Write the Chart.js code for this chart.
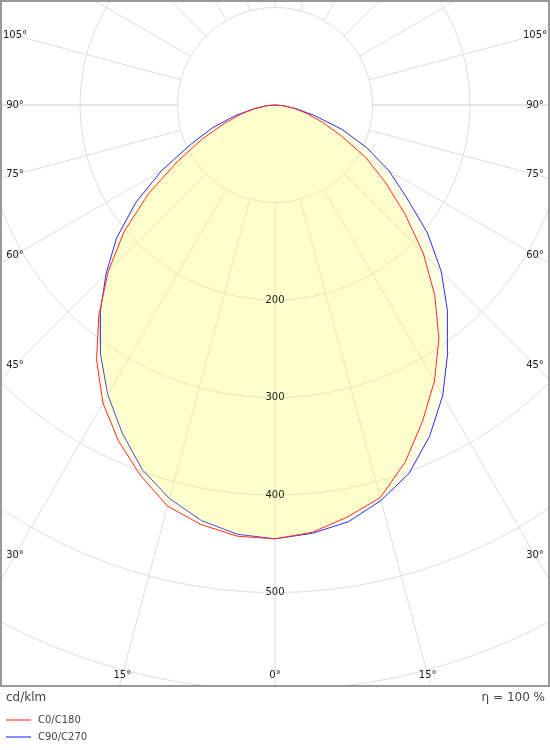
<!DOCTYPE html>
<html>
<head>
<meta charset="utf-8">
<script src="https://cdn.jsdelivr.net/npm/chart.js"></script>
<style>
  body { margin: 0; background: #fff; }
  #wrap { width: 550px; height: 750px; }
</style>
</head>
<body>
<div id="wrap"><canvas id="chart"></canvas></div>
<script>
// gamma angles (deg, 0 = straight down)
const angles = [0, 5, 10, 15, 20, 25, 30, 35, 40, 45, 50, 55, 60, 65, 70, 75, 80, 85, 90];
// cd/klm per half-plane
const c0   = [445, 440, 429, 417, 390, 358, 327, 293, 255, 215, 174, 138, 107, 75, 52, 34, 20, 8, 0];
const c180 = [445, 444, 437, 426, 404, 380, 353, 319, 281, 242, 202, 158, 115, 82, 55, 36, 21, 8, 0];
const c90  = [445, 441, 434, 420, 402, 375, 344, 309, 275, 241, 204, 164, 135, 104, 73, 42, 22, 9, 0];
const c270 = [445, 442, 433, 418, 398, 371, 343, 312, 279, 245, 212, 174, 134, 95, 68, 42, 22, 9, 0];
const rings = [100, 200, 300, 400, 500, 600, 700];
const ringLabels = [200, 300, 400, 500];
const spokeLabels = [0, 15, 30, 45, 60, 75, 90, 105];
const seriesNames = ['C0/C180', 'C90/C270'];

function toXY(right, left) {
  const pts = [];
  angles.forEach((a, i) => {
    const t = a * Math.PI / 180;
    pts.push({ x: right[i] * Math.sin(t), y: -right[i] * Math.cos(t) });
  });
  for (let i = angles.length - 1; i >= 0; i--) {
    const t = angles[i] * Math.PI / 180;
    pts.push({ x: -left[i] * Math.sin(t), y: -left[i] * Math.cos(t) });
  }
  return pts;
}

const polarGrid = {
  id: 'polarGrid',
  beforeDatasetsDraw(chart) {
    const { ctx, chartArea: ca, scales: { x, y } } = chart;
    const cx = x.getPixelForValue(0), cy = y.getPixelForValue(0);
    const k = x.getPixelForValue(100) - cx;
    ctx.save();
    ctx.beginPath();
    ctx.rect(ca.left, ca.top, ca.width, ca.height);
    ctx.clip();
    ctx.strokeStyle = '#dddddd';
    ctx.lineWidth = 1;
    rings.forEach(r => {
      ctx.beginPath();
      ctx.arc(cx, cy, r * k / 100, 0, Math.PI * 2);
      ctx.stroke();
    });
    for (let a = 0; a < 360; a += 15) {
      const t = a * Math.PI / 180;
      const dx = Math.sin(t), dy = Math.cos(t);
      ctx.lineWidth = (a === 90 || a === 270) ? 1.5 : 1;
      ctx.beginPath();
      ctx.moveTo(cx + dx * k, cy + dy * k);
      ctx.lineTo(cx + dx * 2000, cy + dy * 2000);
      ctx.stroke();
    }
    ctx.restore();
  },
  afterDatasetsDraw(chart) {
    const { ctx, chartArea: ca, scales: { x, y } } = chart;
    const cx = x.getPixelForValue(0), cy = y.getPixelForValue(0);
    ctx.save();
    ctx.fillStyle = '#222';
    ctx.font = '10px "DejaVu Sans"';
    ctx.textAlign = 'center';
    ctx.textBaseline = 'middle';
    ringLabels.forEach(r => {
      ctx.fillText(String(r), cx, y.getPixelForValue(-r));
    });
    const bottomY = ca.bottom - 12, sideL = ca.left + 15, sideR = ca.right - 15;
    spokeLabels.forEach(a => {
      const t = a * Math.PI / 180;
      const bx = Math.tan(t) * (bottomY - cy);
      if (a < 90 && Math.abs(bx) < cx - sideL) {
        ctx.fillText(a + '°', cx - bx, bottomY);
        if (a > 0) ctx.fillText(a + '°', cx + bx, bottomY);
      } else {
        const sy = cy + (cx - sideL) / Math.tan(t);
        ctx.fillText(a + '°', sideL, sy);
        ctx.fillText(a + '°', sideR, sy);
      }
    });
    ctx.strokeStyle = '#999';
    ctx.lineWidth = 2;
    ctx.strokeRect(ca.left + 1, ca.top + 1, ca.width - 2, ca.height - 2);

    ctx.fillStyle = '#444';
    ctx.font = '12px "DejaVu Sans"';
    ctx.textAlign = 'left';
    ctx.fillText('cd/klm', 6, ca.bottom + 11);
    ctx.textAlign = 'right';
    ctx.fillText('η = 100 %', 545, ca.bottom + 11);

    ctx.font = '10px "DejaVu Sans"';
    ctx.textAlign = 'left';
    chart.data.datasets.forEach((ds, i) => {
      const ly = ca.bottom + 33 + i * 17;
      ctx.strokeStyle = ds.legendColor;
      ctx.lineWidth = 2;
      ctx.beginPath();
      ctx.moveTo(6, ly);
      ctx.lineTo(31, ly);
      ctx.stroke();
      ctx.fillStyle = '#444';
      ctx.fillText(ds.label, 38, ly);
    });
    ctx.restore();
  }
};

new Chart(document.getElementById('chart'), {
  type: 'scatter',
  data: {
    datasets: [
      {
        label: seriesNames[0],
        data: toXY(c0, c180),
        showLine: true,
        borderColor: '#ff2a2a',
        legendColor: '#ff8888',
        borderWidth: 1,
        pointRadius: 0,
        fill: 'shape',
        backgroundColor: 'rgba(255,255,75,0.15)'
      },
      {
        label: seriesNames[1],
        data: toXY(c90, c270),
        showLine: true,
        borderColor: '#2a2aff',
        legendColor: '#8888ff',
        borderWidth: 1,
        pointRadius: 0,
        fill: 'shape',
        backgroundColor: 'rgba(255,255,75,0.15)'
      }
    ]
  },
  options: {
    responsive: true,
    maintainAspectRatio: false,
    animation: false,
    layout: { padding: { left: 0, right: 0, top: 0, bottom: 63 } },
    plugins: { legend: { display: false }, tooltip: { enabled: false } },
    scales: {
      x: { display: false, min: -282, max: 282 },
      y: { display: false, min: -597, max: 107.7 }
    }
  },
  plugins: [polarGrid]
});
</script>
</body>
</html>
